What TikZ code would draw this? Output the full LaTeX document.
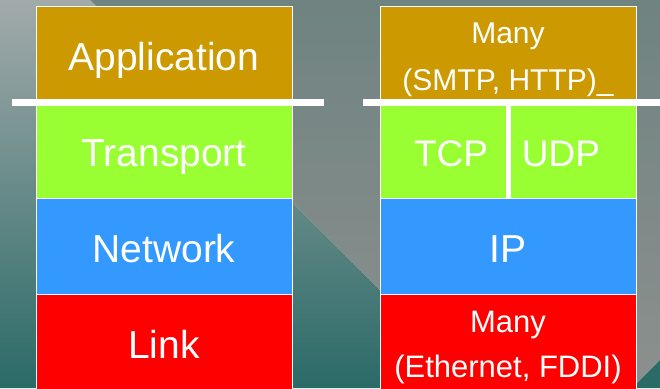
\documentclass[tikz,border=0pt]{standalone}
\usepackage{fontspec}
\setmainfont{Liberation Sans}
\definecolor{appc}{HTML}{CC9900}
\definecolor{trc}{HTML}{99FF33}
\definecolor{netc}{HTML}{3399FF}
\definecolor{linkc}{HTML}{FF0000}
\definecolor{bgLtop}{HTML}{A2AAAA}
\definecolor{bgLmid}{HTML}{648680}
\definecolor{bgLbot}{HTML}{2A6A67}
\definecolor{bgRtop}{HTML}{6F8381}
\definecolor{bgRmid}{HTML}{898E8C}
\definecolor{bgRbot}{HTML}{8C908E}
\begin{document}
\begin{tikzpicture}[x=1pt,y=-1pt,
  layer/.style={rectangle, draw=white, line width=0.9pt, inner sep=0pt, minimum width=256pt},
  lbl/.style={anchor=base, inner sep=0pt, text=white},
  big/.style={font=\fontsize{39}{46}\selectfont},
  mid/.style={font=\fontsize{37}{44}\selectfont},
  small/.style={font=\fontsize{30}{36}\selectfont},
  smallb/.style={font=\fontsize{31}{37}\selectfont},
  bar/.style={white, line width=7pt},
  sep/.style={white, line width=5pt}]
\useasboundingbox (0,0) rectangle (660,388);
\clip (0,0) rectangle (660,388);
% background
\shade[top color=bgLtop, middle color=bgLmid, bottom color=bgLbot]
  (0,0) -- (90,0) -- (478,388) -- (0,388) -- cycle;
\shade[top color=bgRtop, middle color=bgRmid, bottom color=bgRbot]
  (90,0) -- (660,0) -- (660,360) -- (632,388) -- (478,388) -- cycle;
\fill[bgLbot] (632,388) -- (660,360) -- (660,388) -- cycle;
% left stack
\node[layer, fill=appc,  minimum height=93pt] (lapp) at (164,52.5) {};
\node[layer, fill=trc,   minimum height=99pt] (ltr)  at (164,148.5) {};
\node[layer, fill=netc,  minimum height=96pt] (lnet) at (164,246) {};
\node[layer, fill=linkc, minimum height=98pt] (llink) at (164,343) {};
% right stack
\node[layer, fill=appc,  minimum height=93pt] (rapp) at (508,52.5) {};
\node[layer, fill=trc, minimum width=128.5pt, minimum height=99pt] (tcp) at (444.25,148.5) {};
\node[layer, fill=trc, minimum width=127.5pt, minimum height=99pt] (udp) at (572.25,148.5) {};
\node[layer, fill=netc,  minimum height=96pt] (rip)  at (508,246) {};
\node[layer, fill=linkc, minimum height=98pt] (rlink) at (508,343) {};
% separator between TCP and UDP
\draw[sep] (tcp.north east) -- (tcp.south east);
% white bars
\coordinate (lb1) at (12,102.5);
\coordinate (lb2) at (324,102.5);
\coordinate (rb1) at (363,102.5);
\coordinate (rb2) at (662,102.5);
\draw[bar] (lb1) -- (lb2);
\draw[bar] (rb1) -- (rb2);
% labels
\node[lbl, big] (tapp) at (164,70) {Application};
\node[lbl, big] (ttr) at (164,166) {Transport};
\node[lbl, big] (tnet) at (164,262) {Network};
\node[lbl, big] (tlink) at (164,358) {Link};
\node[lbl, small] (tmany1) at (508,43) {Many};
\node[lbl, small] (tsmtp) at (508,90) {(SMTP, HTTP)\_};
\node[lbl, mid] (ttcp) at (451,166) {TCP};
\node[lbl, mid] (tudp) at (561,166) {UDP};
\node[lbl, big] (tip) at (508,262) {IP};
\node[lbl, smallb] (tmany2) at (508,332) {Many};
\node[lbl, smallb] (teth) at (508,377) {(Ethernet, FDDI)};
\end{tikzpicture}
\end{document}
